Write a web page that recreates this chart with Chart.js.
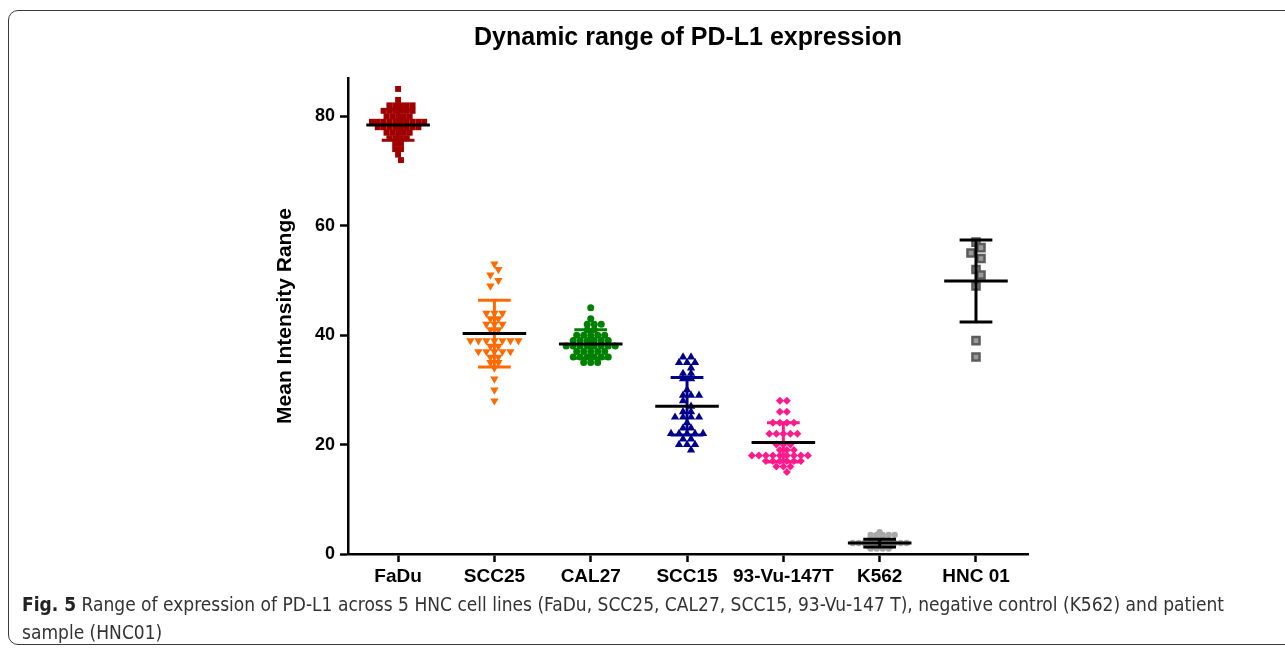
<!DOCTYPE html>
<html>
<head>
<meta charset="utf-8">
<title>Dynamic range of PD-L1 expression</title>
<script src="https://cdn.jsdelivr.net/npm/chart.js@4.4.1/dist/chart.umd.min.js"></script>
<style>
  html, body { margin: 0; padding: 0; background: #fff; }
  body { width: 1285px; height: 651px; position: relative; overflow: hidden; }
  #frame {
    position: absolute; left: 8px; top: 10px; width: 1300px; height: 635px;
    border: 1px solid #3a3a3a; border-radius: 10px; box-sizing: border-box;
  }
  #wrap { position: absolute; left: 0; top: 0; width: 1285px; height: 651px; }
  #caption {
    position: absolute; left: 22px; top: 590px;
    font-family: "Liberation Sans Narrow", "DejaVu Sans Condensed", "Liberation Sans", sans-serif;
    font-size: 19px; line-height: 28px; color: #333; white-space: nowrap;
  }
  #caption b { color: #222; }
</style>
</head>
<body>
<div id="frame"></div>
<div id="wrap"><canvas id="chart"></canvas></div>
<div id="caption"><b>Fig. 5</b> Range of expression of PD-L1 across 5 HNC cell lines (FaDu, SCC25, CAL27, SCC15, 93-Vu-147 T), negative control (K562) and patient<br>sample (HNC01)</div>

<script>
// --- datos ---
const categories = ['FaDu', 'SCC25', 'CAL27', 'SCC15', '93-Vu-147T', 'K562', 'HNC 01'];
const yTicks = [0, 20, 40, 60, 80];

const fadu = [85, 83, 82, 82, 82, 82, 82, 81, 81, 81, 81, 81, 81, 80, 80, 80, 80, 80,
  79, 79, 79, 79, 79, 79, 79, 79, 79, 79, 78, 78, 78, 78, 78, 78, 78, 78,
  77, 77, 77, 77, 77, 76, 76, 76, 76, 75, 75, 74, 74, 73, 72];
const scc25 = [53, 52, 51, 50, 49, 44, 44, 44, 43, 43, 42, 42, 42, 41, 41,
  39, 39, 39, 39, 39, 39, 39, 38, 38, 37, 37, 37, 37, 37, 36, 36, 35, 35, 34, 32, 30, 28];
const cal27 = [45, 43, 42, 42, 42, 41, 41, 40, 40, 40, 40, 40, 39, 39, 39, 39, 39, 39,
  38, 38, 38, 38, 38, 38, 38, 38, 37, 37, 37, 37, 37, 36, 36, 36, 36, 36, 36, 35, 35, 35];
const scc15 = [36, 36, 35, 35, 35, 34, 33, 33, 32, 32, 30, 29, 29, 29, 28, 27, 26, 26,
  25, 25, 25, 25, 24, 23, 23, 22, 22, 22, 22, 22, 21, 21, 20, 20, 20, 19];
const vu147t = [28, 28, 26, 26, 24, 24, 24, 24, 22, 22, 22, 22, 22, 20, 20, 20, 19, 19, 19,
  18, 18, 18, 18, 18, 18, 18, 18, 18, 17, 17, 17, 17, 17, 17, 16, 16, 16, 15];
const k562 = [4, 3.5, 3.5, 3.5, 3.5, 3.5, 3, 3, 3, 2.5, 2.5, 2.5, 2.5,
  2, 2, 2, 2, 2, 2, 2, 2, 2, 2, 1.5, 1.5, 1.5, 1.5, 1.5, 1, 1, 1, 1];
const hnc01 = [57, 56, 55, 54, 52, 51, 49, 39, 36];

// media y desviación estándar de cada grupo (barras)
const means = [78.4, 40.3, 38.4, 27.0, 20.4, 2.0, 49.9];
const sds = [2.8, 6.1, 2.6, 5.25, 3.6, 0.7, 7.5];

const groups = [fadu, scc25, cal27, scc15, vu147t, k562, hnc01];

// --- estilo de cada grupo (bin = alto de fila en unidades, gap = separación en px) ---
const styles = [
  { color: '#a00000', shape: 'rect', radius: 4.2, rot: 0, bin: 1, gap: 5.8, bar: '#a00000' },
  { color: '#ff6a00', shape: 'triangle', radius: 4.8, rot: 180, bin: 1, gap: 8, bar: '#ff6a00' },
  { color: '#008000', shape: 'circle', radius: 3.5, rot: 0, bin: 1, gap: 7, bar: '#008000' },
  { color: '#00008b', shape: 'triangle', radius: 4.8, rot: 0, bin: 1, gap: 8, bar: '#00008b' },
  { color: '#ff1a8c', shape: 'rectRot', radius: 4, rot: 0, bin: 1, gap: 7, bar: '#ff1a8c' },
  { color: '#a8a8a8', shape: 'circle', radius: 3.2, rot: 0, bin: 0.5, gap: 6, bar: '#000' },
  { color: '#9a9a9a', shape: 'rect', radius: 5, rot: 0, bin: 1, gap: 10, bar: '#000', border: '#5c5c5c' }
];

const labelFont = 'Liberation Sans, Arial, sans-serif';

// Diagrama de puntos tipo Prism: filas por valor, repartidas a lo ancho en px
const swarmPlugin = {
  id: 'swarm',
  afterDatasetsUpdate(chart) {
    chart.data.datasets.forEach((ds, i) => {
      const { bin, gap } = styles[i];
      const els = chart.getDatasetMeta(i).data;
      const rows = new Map();
      ds.data.forEach((d, j) => {
        const key = Math.round(d.y / bin);
        if (!rows.has(key)) rows.set(key, []);
        rows.get(key).push(els[j]);
      });
      const keys = [...rows.keys()].sort((a, b) => b - a);
      let prevKey = null, prevOdd = false, prevShift = 0;
      keys.forEach(key => {
        const row = rows.get(key);
        const odd = row.length % 2 === 1;
        let shift = 0;
        // filas impares seguidas: zigzag para que no se tapen
        if (odd && prevOdd && prevKey - key === 1) shift = prevShift === 0 ? gap / 2 : -prevShift;
        row.forEach((el, k) => { el.x += (k - (row.length - 1) / 2) * gap + shift; });
        prevKey = key; prevOdd = odd; prevShift = shift;
      });
    });
  }
};

// Barras de media ± DE, dibujadas con las escalas del gráfico
const meanSdPlugin = {
  id: 'meanSd',
  afterDatasetsDraw(chart) {
    const { ctx, scales: { x, y } } = chart;
    ctx.save();
    categories.forEach((_, i) => {
      const cx = x.getPixelForValue(i);
      const capL = x.getPixelForValue(i - 0.17), capR = x.getPixelForValue(i + 0.17);
      const mL = x.getPixelForValue(i - 0.33), mR = x.getPixelForValue(i + 0.33);
      const top = y.getPixelForValue(means[i] + sds[i]);
      const bot = y.getPixelForValue(means[i] - sds[i]);
      const m = y.getPixelForValue(means[i]);
      ctx.strokeStyle = styles[i].bar;
      ctx.lineWidth = 3;
      ctx.beginPath();
      ctx.moveTo(cx, top); ctx.lineTo(cx, bot);
      ctx.moveTo(capL, top); ctx.lineTo(capR, top);
      ctx.moveTo(capL, bot); ctx.lineTo(capR, bot);
      ctx.stroke();
      ctx.strokeStyle = '#000';
      ctx.beginPath();
      ctx.moveTo(mL, m); ctx.lineTo(mR, m);
      ctx.stroke();
    });
    ctx.restore();
  }
};

const datasets = groups.map((vals, i) => ({
  label: categories[i],
  data: vals.map(v => ({ x: i, y: v })),
  pointStyle: styles[i].shape,
  pointRadius: styles[i].radius,
  pointRotation: styles[i].rot,
  backgroundColor: styles[i].color,
  borderColor: styles[i].border || styles[i].color,
  borderWidth: styles[i].border ? 2.5 : 0
}));

new Chart(document.getElementById('chart'), {
  type: 'scatter',
  data: { datasets },
  plugins: [swarmPlugin, meanSdPlugin],
  options: {
    responsive: true,
    maintainAspectRatio: false,
    animation: false,
    events: [],
    layout: { padding: { left: 250, right: 257, top: 12, bottom: 57 } },
    plugins: {
      legend: { display: false },
      tooltip: { enabled: false },
      title: {
        display: true,
        fullSize: false,
        text: 'Dynamic range of PD-L1 expression',
        color: '#000',
        font: { family: labelFont, size: 25, weight: 'bold' },
        padding: { top: 11, bottom: 25 }
      }
    },
    scales: {
      x: {
        type: 'linear',
        min: -0.52,
        max: 6.54,
        afterBuildTicks: s => { s.ticks = categories.map((_, i) => ({ value: i })); },
        afterFit: s => { s.height = 40; },
        ticks: {
          callback: v => categories[v],
          color: '#000',
          font: { family: labelFont, size: 19, weight: 'bold' },
          padding: 3,
          maxRotation: 0,
          autoSkip: false
        },
        grid: { display: true, drawOnChartArea: false, tickLength: 8, tickWidth: 2.5, tickColor: '#000' },
        border: { color: '#000', width: 2.5 }
      },
      y: {
        min: 0,
        max: 87,
        afterBuildTicks: s => { s.ticks = yTicks.map(v => ({ value: v })); },
        afterFit: s => { s.width = 98; },
        ticks: {
          color: '#000',
          font: { family: labelFont, size: 18, weight: 'bold' },
          padding: 5
        },
        title: {
          display: true,
          text: 'Mean Intensity Range',
          color: '#000',
          font: { family: labelFont, size: 21, weight: 'bold' },
          padding: { top: 23, bottom: 0 }
        },
        grid: { display: true, drawOnChartArea: false, tickLength: 8, tickWidth: 2.5, tickColor: '#000' },
        border: { color: '#000', width: 2.5 }
      }
    }
  }
});
</script>
</body>
</html>
